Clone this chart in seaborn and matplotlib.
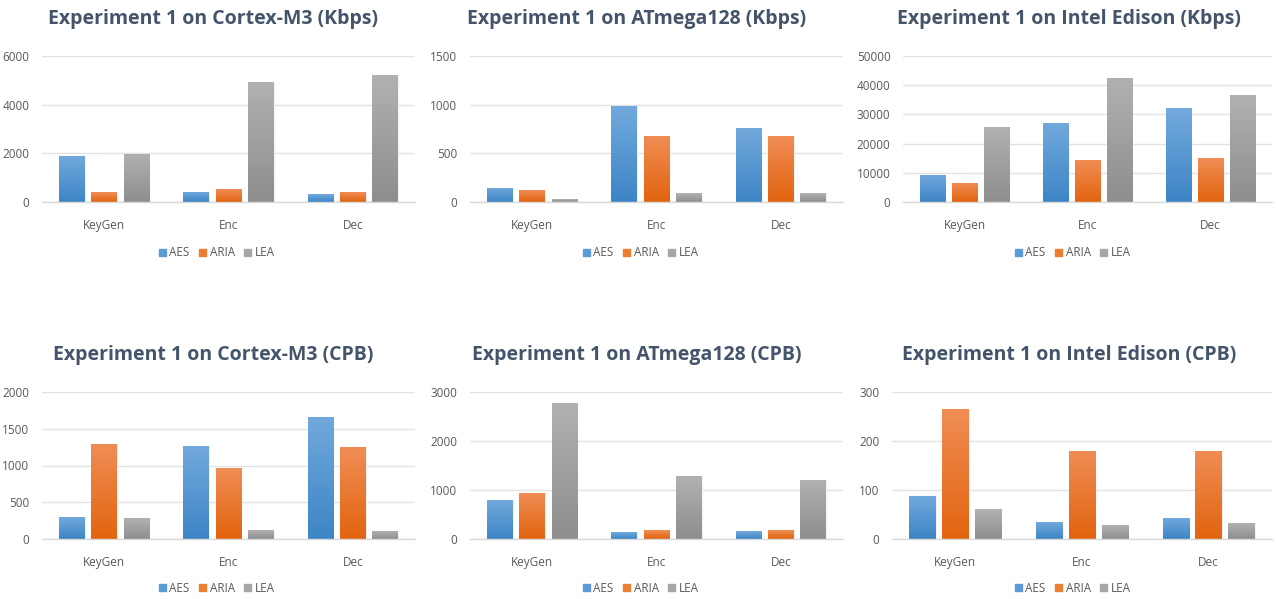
import numpy as np
import pandas as pd
import matplotlib
matplotlib.use("Agg")
import matplotlib.pyplot as plt
import seaborn as sns
from matplotlib.colors import LinearSegmentedColormap

sns.set_theme(style="white")
plt.rcParams['font.family'] = ['Open Sans', 'DejaVu Sans']

categories = ["KeyGen", "Enc", "Dec"]
algorithms = ["AES", "ARIA", "LEA"]

titles = [
    "Experiment 1 on Cortex-M3 (Kbps)",
    "Experiment 1 on ATmega128 (Kbps)",
    "Experiment 1 on Intel Edison (Kbps)",
    "Experiment 1 on Cortex-M3 (CPB)",
    "Experiment 1 on ATmega128 (CPB)",
    "Experiment 1 on Intel Edison (CPB)",
]

# values per panel: [AES, ARIA, LEA] for KeyGen, Enc, Dec
m3_kbps_aes = [1900, 420, 310]
m3_kbps_aria = [410, 530, 410]
m3_kbps_lea = [1990, 4930, 5230]

atm_kbps_aes = [145, 985, 757]
atm_kbps_aria = [122, 680, 680]
atm_kbps_lea = [30, 90, 90]

ed_kbps_aes = [9400, 27100, 32100]
ed_kbps_aria = [6600, 14500, 15000]
ed_kbps_lea = [25600, 42600, 36500]

m3_cpb_aes = [298, 1260, 1661]
m3_cpb_aria = [1287, 962, 1246]
m3_cpb_lea = [284, 122, 108]

atm_cpb_aes = [792, 142, 162]
atm_cpb_aria = [948, 183, 183]
atm_cpb_lea = [2783, 1280, 1212]

ed_cpb_aes = [88, 34, 43]
ed_cpb_aria = [265, 180, 180]
ed_cpb_lea = [61, 28, 32]

panels = [
    (m3_kbps_aes, m3_kbps_aria, m3_kbps_lea, 6000, 2000),
    (atm_kbps_aes, atm_kbps_aria, atm_kbps_lea, 1500, 500),
    (ed_kbps_aes, ed_kbps_aria, ed_kbps_lea, 50000, 10000),
    (m3_cpb_aes, m3_cpb_aria, m3_cpb_lea, 2000, 500),
    (atm_cpb_aes, atm_cpb_aria, atm_cpb_lea, 3000, 1000),
    (ed_cpb_aes, ed_cpb_aria, ed_cpb_lea, 300, 100),
]

base_colors = {"AES": "#5B9BD5", "ARIA": "#ED7D31", "LEA": "#A5A5A5"}
grad = {
    "AES": ("#3D85C6", "#72A9DD"),
    "ARIA": ("#E2640F", "#F08D55"),
    "LEA": ("#8E8E8E", "#B1B1B1"),
}

W, H = 1276, 599
fig = plt.figure(figsize=(W / 100, H / 100), dpi=100)
fig.patch.set_facecolor("white")

# pixel layout: (x0, x1) of plot area, (ytop, ybottom) pixel
xranges = [(42, 415), (470, 843), (903, 1272), (42, 415), (470, 843), (892, 1272)]
yranges = [(56, 202), (56, 202), (56, 202), (392, 539), (392, 539), (392, 539)]
title_y = [19, 19, 19, 355, 355, 355]
title_x = [213, 637, 1069, 213, 637, 1069]
legend_y = [253, 253, 253, 588, 588, 588]

for i, (aes, aria, lea, ymax, step) in enumerate(panels):
    x0, x1 = xranges[i]
    yt, yb = yranges[i]
    ax = fig.add_axes([x0 / W, 1 - yb / H, (x1 - x0) / W, (yb - yt) / H])
    df = pd.DataFrame({
        "cat": categories * 3,
        "alg": ["AES"] * 3 + ["ARIA"] * 3 + ["LEA"] * 3,
        "val": list(aes) + list(aria) + list(lea),
    })
    sns.barplot(data=df, x="cat", y="val", hue="alg", order=categories,
                hue_order=algorithms, palette=base_colors, width=0.78, gap=0.2,
                ax=ax, legend=False, saturation=1, edgecolor="#F2F2F2", linewidth=0.8)
    ax.set_ylim(0, ymax)
    ax.set_xlim(-0.5, 2.5)
    # gradient fills clipped to bars
    for j, cont in enumerate(ax.containers):
        lo, hi = grad[algorithms[j]]
        cmap = LinearSegmentedColormap.from_list("g", [lo, hi])
        for p in cont.patches:
            bx, bw, bh = p.get_x(), p.get_width(), p.get_height()
            g = np.linspace(0, 1, 64).reshape(-1, 1)
            im = ax.imshow(g, cmap=cmap, extent=[bx, bx + bw, 0, bh], origin="lower",
                           aspect="auto", zorder=p.get_zorder() + 0.1, interpolation="bilinear")
            im.set_clip_path(p)
    ax.set_ylim(0, ymax)
    ax.set_xlim(-0.5, 2.5)
    ax.set_yticks(np.arange(0, ymax + step / 2, step))
    ax.yaxis.grid(True, color="#E3E3E3", linewidth=1)
    ax.set_axisbelow(True)
    for s in ["top", "right", "left"]:
        ax.spines[s].set_visible(False)
    ax.spines["bottom"].set_color("#D9D9D9")
    ax.spines["bottom"].set_linewidth(1)
    ax.tick_params(axis="both", length=0, labelsize=8.5, labelcolor="#595959")
    ax.tick_params(axis="y", pad=9)
    ax.tick_params(axis="x", pad=12)
    ax.set_xlabel("")
    ax.set_ylabel("")
    fig.text(title_x[i] / W, 1 - title_y[i] / H, titles[i], ha="center", va="center",
             fontsize=14, fontweight="bold", color="#44546A")
    handles = [plt.Rectangle((0, 0), 1, 1, color=base_colors[a]) for a in algorithms]
    fig.legend(handles, algorithms, loc="center",
               bbox_to_anchor=(title_x[i] / W + 0.003, 1 - legend_y[i] / H),
               ncol=3, frameon=False, fontsize=8.5, handlelength=0.6, handleheight=0.6,
               handletextpad=0.3, columnspacing=0.8, labelcolor="#595959")

fig.savefig("out.png", dpi=100, facecolor="white")
